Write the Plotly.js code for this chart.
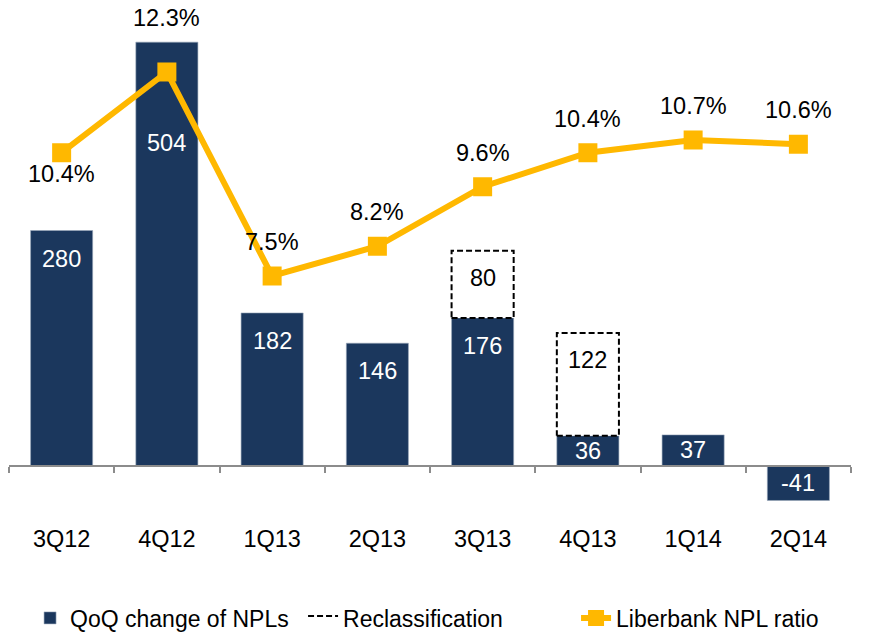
<!DOCTYPE html>
<html>
<head>
<meta charset="utf-8">
<script src="https://cdn.plot.ly/plotly-3.0.1.min.js"></script>
<style>html,body{margin:0;padding:0;background:#fff;}#chart{width:874px;height:632px;}</style>
</head>
<body>
<div id="chart"></div>
<script>
// ---- data ----
const quarters = ['3Q12','4Q12','1Q13','2Q13','3Q13','4Q13','1Q14','2Q14'];
const nplChange = [280, 504, 182, 146, 176, 36, 37, -41];
const reclassification = [0, 0, 0, 0, 80, 122, 0, 0];
const nplRatio = [10.4, 12.3, 7.5, 8.2, 9.6, 10.4, 10.7, 10.6];
const nplRatioLabels = ['10.4%','12.3%','7.5%','8.2%','9.6%','10.4%','10.7%','10.6%'];

// ---- style ----
const NAVY = '#1B375D';
const GOLD = '#FFB800';
const FONT = 'Liberation Sans, Arial, sans-serif';
const LABEL_SIZE = 23.5;
const barWidth = 0.59;
const idx = quarters.map((q, i) => i);

// dashed reclassification boxes built from data
const boxX = [], boxY = [], boxLabX = [], boxLabY = [], boxLabT = [];
reclassification.forEach((r, i) => {
  if (!r) return;
  const base = nplChange[i];
  const h = barWidth / 2;
  boxX.push(i - h, i + h, i + h, i - h, i - h, null);
  boxY.push(base, base, base + r, base + r, base, null);
  boxLabX.push(i); boxLabY.push(base + r); boxLabT.push(String(r));
});

const traces = [
  {
    type: 'bar', name: 'QoQ change of NPLs', x: idx, y: nplChange, width: barWidth,
    marker: {color: NAVY, line: {color: '#9aa8bb', width: 0.6}}, yaxis: 'y'
  },
  {
    type: 'scatter', name: 'Reclassification', x: boxX, y: boxY, mode: 'lines',
    fill: 'toself', fillcolor: '#ffffff',
    line: {color: '#000000', width: 2, dash: '6px,3px'}, yaxis: 'y'
  },
  {
    type: 'scatter', name: 'Liberbank NPL ratio', x: idx, y: nplRatio, mode: 'lines+markers',
    line: {color: GOLD, width: 6}, marker: {symbol: 'square', size: 19, color: GOLD},
    yaxis: 'y2'
  }
];

const annotations = [];
// bar labels
nplChange.forEach((v, i) => {
  let y = v, shift = -28;
  if (Math.abs(v) < 60) { y = v / 2; shift = 0; }
  else if (v > 400) { shift = -101; }
  annotations.push({x: i, y: y, xref: 'x', yref: 'y', text: String(v), showarrow: false,
    yshift: shift, yanchor: 'middle', font: {family: FONT, size: LABEL_SIZE, color: '#ffffff'}});
});
// reclassification labels
boxLabX.forEach((x, k) => {
  annotations.push({x: x, y: boxLabY[k], xref: 'x', yref: 'y', text: boxLabT[k], showarrow: false,
    yshift: -27, yanchor: 'middle', font: {family: FONT, size: LABEL_SIZE, color: '#000000'}});
});
// ratio labels
nplRatio.forEach((v, i) => {
  let shift = 34;
  if (i === 0) shift = -21;
  if (v === Math.max(...nplRatio)) shift = 54;
  annotations.push({x: i, y: v, xref: 'x', yref: 'y2', text: nplRatioLabels[i], showarrow: false,
    yshift: shift, yanchor: 'middle', font: {family: FONT, size: LABEL_SIZE, color: '#000000'}});
});

const layout = {
  width: 874, height: 632,
  margin: {l: 9, r: 23, t: 30, b: 110, pad: 0, autoexpand: false},
  paper_bgcolor: '#ffffff', plot_bgcolor: '#ffffff',
  showlegend: true,
  font: {family: FONT, size: LABEL_SIZE, color: '#000000'},
  barmode: 'overlay',
  xaxis: {
    range: [-0.5, 7.5], tickmode: 'array', tickvals: idx, ticktext: quarters,
    anchor: 'free', position: 0.11382, automargin: false,
    showline: true, linecolor: '#8c8c8c', linewidth: 2,
    ticks: '', ticklabelstandoff: 52,
    minor: {tick0: -0.5, dtick: 1, ticks: 'outside', ticklen: 6, tickcolor: '#8c8c8c', tickwidth: 2, showgrid: false},
    showgrid: false, zeroline: false,
    tickfont: {family: FONT, size: LABEL_SIZE, color: '#000000'}
  },
  yaxis: {range: [-66.59, 518.43], showgrid: false, zeroline: false, showticklabels: false, showline: false, ticks: '', automargin: false},
  yaxis2: {range: [1.712, 13.288], overlaying: 'y', side: 'right', showgrid: false, zeroline: false,
    showticklabels: false, showline: false, ticks: '', automargin: false},
  legend: {orientation: 'h', x: 0.025, xanchor: 'left', y: -0.195, yanchor: 'middle',
    entrywidth: 228, entrywidthmode: 'pixels',
    font: {family: FONT, size: 23, color: '#000000'}, bgcolor: 'rgba(0,0,0,0)', traceorder: 'normal'},
  annotations: annotations,
  hovermode: false
};

Plotly.newPlot('chart', traces, layout, {staticPlot: true, displayModeBar: false});
</script>
</body>
</html>
